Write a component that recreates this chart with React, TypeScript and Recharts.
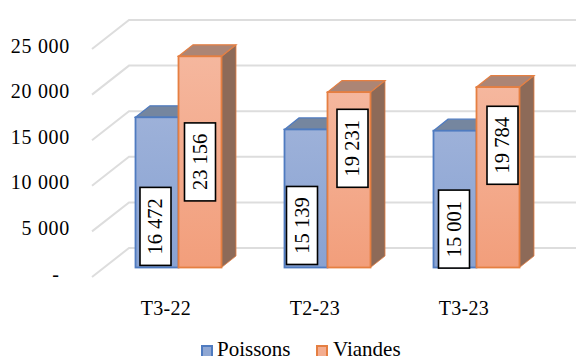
import React from "react";
import { BarChart, Bar, XAxis, YAxis, CartesianGrid, LabelList, Legend } from "recharts";

// Trimestres et tonnages
const quarters = ["T3-22", "T2-23", "T3-23"];
const poissons = [16472, 15139, 15001];
const viandes = [23156, 19231, 19784];
const valueTicks = [0, 5000, 10000, 15000, 20000, 25000];
const chartData = quarters.map((quarter, i) => ({ quarter, poissons: poissons[i], viandes: viandes[i] }));

const FONT = '"Liberation Serif", serif';
const DEPTH_X = 14.5;
const DEPTH_Y = 11.5;

// Déplacement manuel des étiquettes par rapport au centre de la colonne
const poissonsLabelShift = [[-1.5, 34], [-4, 27], [-1, 30]];
const viandesLabelShift = [[0, 0], [3.5, -31.5], [4.5, -32]];

const fmt = (v: number) => {
  const s = String(v);
  return s.slice(0, -3) + " " + s.slice(-3);
};

const tints = {
  poissons: { edge: "#4F7BC0", front: "url(#poissonsFront)", top: "#75869F", side: "#66758F" },
  viandes: { edge: "#E57F42", front: "url(#viandesFront)", top: "#AC8575", side: "#8D6A58" },
};

const Column3D = (tint: typeof tints.poissons) => (props: any) => {
  const { x, y, width, height } = props;
  const r = x + width;
  const b = y + height;
  const dx = DEPTH_X;
  const dy = DEPTH_Y;
  return (
    <g>
      <polygon points={`${r},${y} ${r + dx},${y - dy} ${r + dx},${b - dy} ${r},${b}`} fill={tint.side} stroke={tint.edge} strokeWidth={0.8} />
      <polygon points={`${x},${y} ${x + dx},${y - dy} ${r + dx},${y - dy} ${r},${y}`} fill={tint.top} stroke={tint.edge} strokeWidth={1.2} />
      <rect x={x} y={y} width={width} height={height} fill={tint.front} stroke={tint.edge} strokeWidth={1.8} />
    </g>
  );
};

const ValueBox = (shifts: number[][]) => (props: any) => {
  const { x, y, width, height, value, index } = props;
  const [sx, sy] = shifts[index];
  const cx = x + width / 2 + sx;
  const cy = y + height / 2 + sy;
  return (
    <g>
      <rect x={cx - 15.5} y={cy - 39} width={31} height={78} fill="#fff" stroke="#000" strokeWidth={1.6} />
      <text x={cx} y={cy} transform={`rotate(-90 ${cx} ${cy})`} textAnchor="middle" dominantBaseline="central" fontFamily={FONT} fontSize={20.5} fill="#000">
        {fmt(value)}
      </text>
    </g>
  );
};

// Mur de fond : diagonale de profondeur puis ligne horizontale
const WallLine = (props: any) => {
  const y = props.y1;
  return <polyline points={`92,${y + 9.5} 129,${y - 19.5} 576,${y - 19.5}`} fill="none" stroke="#DDDDDD" strokeWidth={2} />;
};

const ValueTick = (props: any) => {
  const { y, payload } = props;
  const zero = payload.value === 0;
  return (
    <text x={zero ? 56 : 70} y={y + 6} textAnchor={zero ? "middle" : "end"} dominantBaseline="central" fontFamily={FONT} fontSize={20} letterSpacing={0.7} fill="#000">
      {zero ? "-" : payload.value / 1000 + " " + "000"}
    </text>
  );
};

const QuarterTick = (props: any) => {
  const { x, y, payload } = props;
  return (
    <text x={x - 12} y={y + 32} textAnchor="middle" dominantBaseline="central" fontFamily={FONT} fontSize={20} letterSpacing={0.3} fill="#000">
      {payload.value}
    </text>
  );
};

const LegendRow = () => (
  <div style={{ position: "relative", height: 21, fontFamily: FONT, fontSize: 21, color: "#000", lineHeight: "21px" }}>
    <span style={{ position: "absolute", left: 0, top: 6, width: 8, height: 9, background: "#8FA7D3", border: "2px solid #4F7BC0" }} />
    <span style={{ position: "absolute", left: 16, top: 0 }}>Poissons</span>
    <span style={{ position: "absolute", left: 115, top: 6, width: 8, height: 9, background: "#F3AD90", border: "2px solid #E57F42" }} />
    <span style={{ position: "absolute", left: 132, top: 0 }}>Viandes</span>
  </div>
);

export default function App() {
  return (
    <div style={{ position: "absolute", left: 0, top: 0, width: 576, height: 356, overflow: "hidden", background: "#fff" }}>
      <BarChart
        width={576}
        height={356}
        data={chartData}
        margin={{ top: 39.5, right: 25.5, bottom: 0, left: 0 }}
        barGap={0}
        barSize={43}
      >
        <defs>
          <linearGradient id="poissonsFront" x1="0" y1="0" x2="0" y2="1">
            <stop offset="0%" stopColor="#9DB1D9" />
            <stop offset="100%" stopColor="#88A2D2" />
          </linearGradient>
          <linearGradient id="viandesFront" x1="0" y1="0" x2="0" y2="1">
            <stop offset="0%" stopColor="#F5B79E" />
            <stop offset="100%" stopColor="#F29E7B" />
          </linearGradient>
        </defs>
        <CartesianGrid vertical={false} horizontal={WallLine} />
        <XAxis dataKey="quarter" height={88.5} axisLine={false} tickLine={false} tick={QuarterTick} interval={0} />
        <YAxis width={103.5} domain={[0, 25000]} ticks={valueTicks} axisLine={false} tickLine={false} tick={ValueTick} />
        <Legend
          layout="horizontal"
          verticalAlign="middle"
          align="center"
          content={LegendRow}
          wrapperStyle={{ left: 201, top: 339, width: 300, height: 21 }}
        />
        <Bar dataKey="poissons" name="Poissons" isAnimationActive={false} shape={Column3D(tints.poissons)}>
          <LabelList dataKey="poissons" content={ValueBox(poissonsLabelShift)} />
        </Bar>
        <Bar dataKey="viandes" name="Viandes" isAnimationActive={false} shape={Column3D(tints.viandes)}>
          <LabelList dataKey="viandes" content={ValueBox(viandesLabelShift)} />
        </Bar>
      </BarChart>
    </div>
  );
}
